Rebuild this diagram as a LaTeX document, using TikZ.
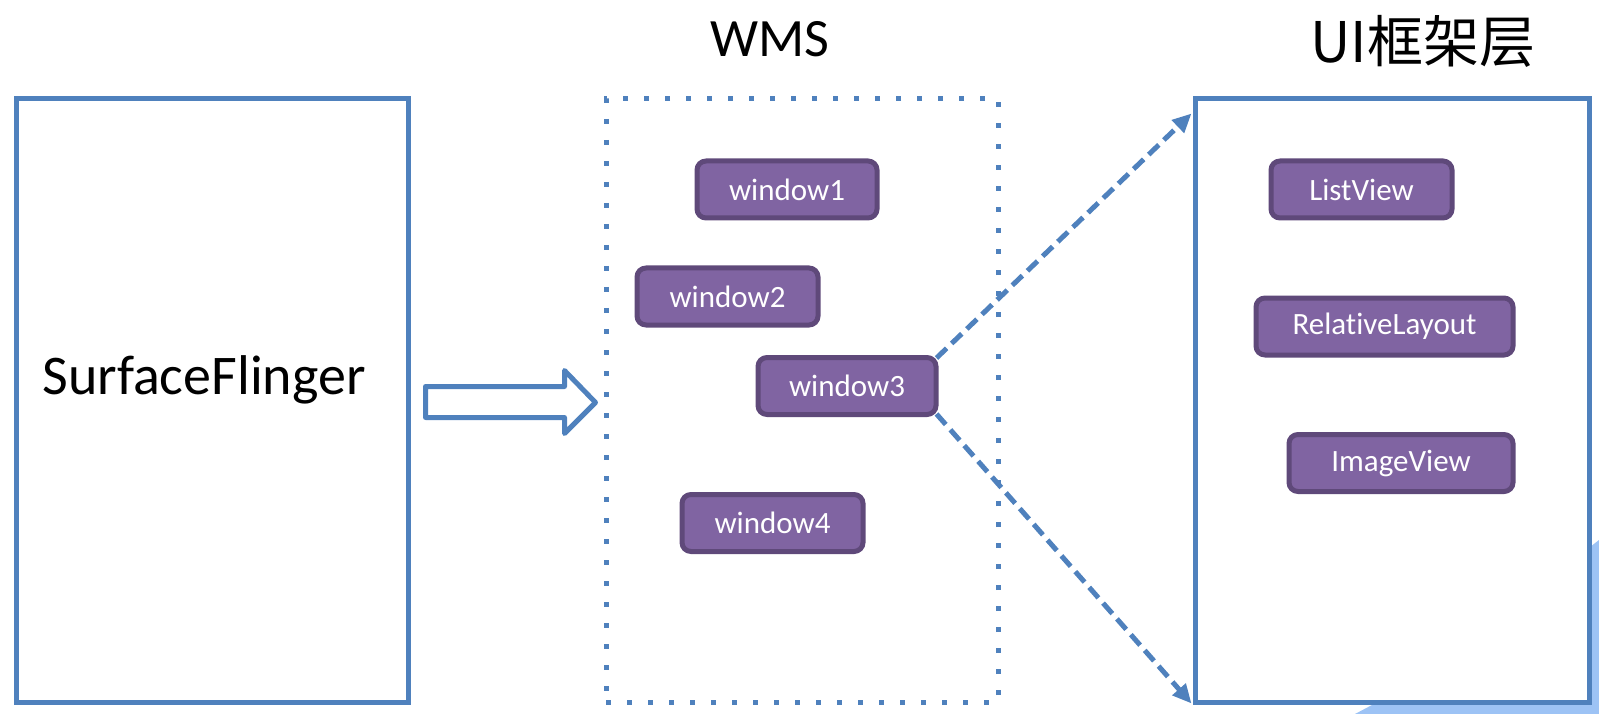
\documentclass[tikz,border=0pt]{standalone}
\usepackage{fontspec}
\setmainfont{Carlito}[Ligatures=NoCommon]
\newfontfamily\cjkfont{Noto Sans CJK SC}
\usetikzlibrary{arrows.meta,calc}
\definecolor{ppblue}{HTML}{4F81BD}
\definecolor{pppurple}{HTML}{8064A2}
\definecolor{ppborder}{HTML}{5F497A}
\definecolor{pplight}{HTML}{9DC3F5}
\begin{document}
\begin{tikzpicture}[x=1pt,y=-1pt,
  item/.style={draw=ppborder, fill=pppurple, line width=5pt, rounded corners=9pt,
    text=white, font=\fontsize{31}{31}\selectfont, minimum height=57pt, inner sep=0pt},
  frame/.style={draw=ppblue, line width=5pt, fill=white, minimum height=603pt, inner sep=0pt},
  dotframe/.style={draw=ppblue, line width=5pt, dash pattern=on 5pt off 16pt, minimum height=603pt, inner sep=0pt},
  title/.style={font=\fontsize{54}{54}\selectfont, anchor=base},
  link/.style={draw=ppblue, line width=5pt, dash pattern=on 14pt off 7pt, -{Triangle[length=19pt,width=17pt]}},
  hollow/.style={draw=ppblue, line width=5pt, line join=round}]
\path[use as bounding box] (0,0) rectangle (1599,714);
% light blue shape peeking at bottom right
\fill[pplight] (1355,714) -- (1372,705) -- (1590,705) -- (1590,547) -- (1599,540) -- (1599,714) -- cycle;
% frames
\node[frame, minimum width=392pt] (sf) at (212,400.5) {};
\node[dotframe, minimum width=392pt] (wms) at (802,400.5) {};
\node[frame, minimum width=394pt] (ui) at (1392,400.5) {};
% titles
\node[title, font=\fontsize{56}{56}\selectfont] (sft) at (204,394) {SurfaceFlinger};
\node[title] (wmst) at (770,57) {WMS};
\node[anchor=base, font=\cjkfont\fontsize{56}{56}\selectfont] (uit) at (1423,63) {UI框架层};
% hollow arrow
\coordinate (ha) at ($(sf.east)+(15,-14)$);
\draw[hollow] (ha) -- ++(139,0) -- ++(0,-16) -- ++(31,32) -- ++(-31,31) -- ++(0,-16) -- ++(-139,0) -- cycle;
% window nodes
\node[item, minimum width=180pt] (w1) at (787,189.5) {window1};
\node[item, minimum width=181pt] (w2) at (727.5,296.5) {window2};
\node[item, minimum width=178pt] (w3) at (847,386) {window3};
\node[item, minimum width=181pt] (w4) at (772.5,523) {window4};
% UI nodes
\node[item, minimum width=181pt] (lv) at (1361.5,189.5) {ListView};
\node[item, minimum width=257pt] (rl) at (1384.5,326.5) {RelativeLayout};
\node[item, minimum width=224pt] (iv) at (1401,463) {ImageView};
% dashed arrows
\coordinate (uitop) at ($(ui.north west)+(-1,17)$);
\coordinate (uibot) at ($(ui.south west)+(-1,-1)$);
\draw[link] ($(w3.north east)+(-2,3)$) -- (uitop);
\draw[link] ($(w3.south east)+(-2,-3)$) -- (uibot);
\end{tikzpicture}
\end{document}
